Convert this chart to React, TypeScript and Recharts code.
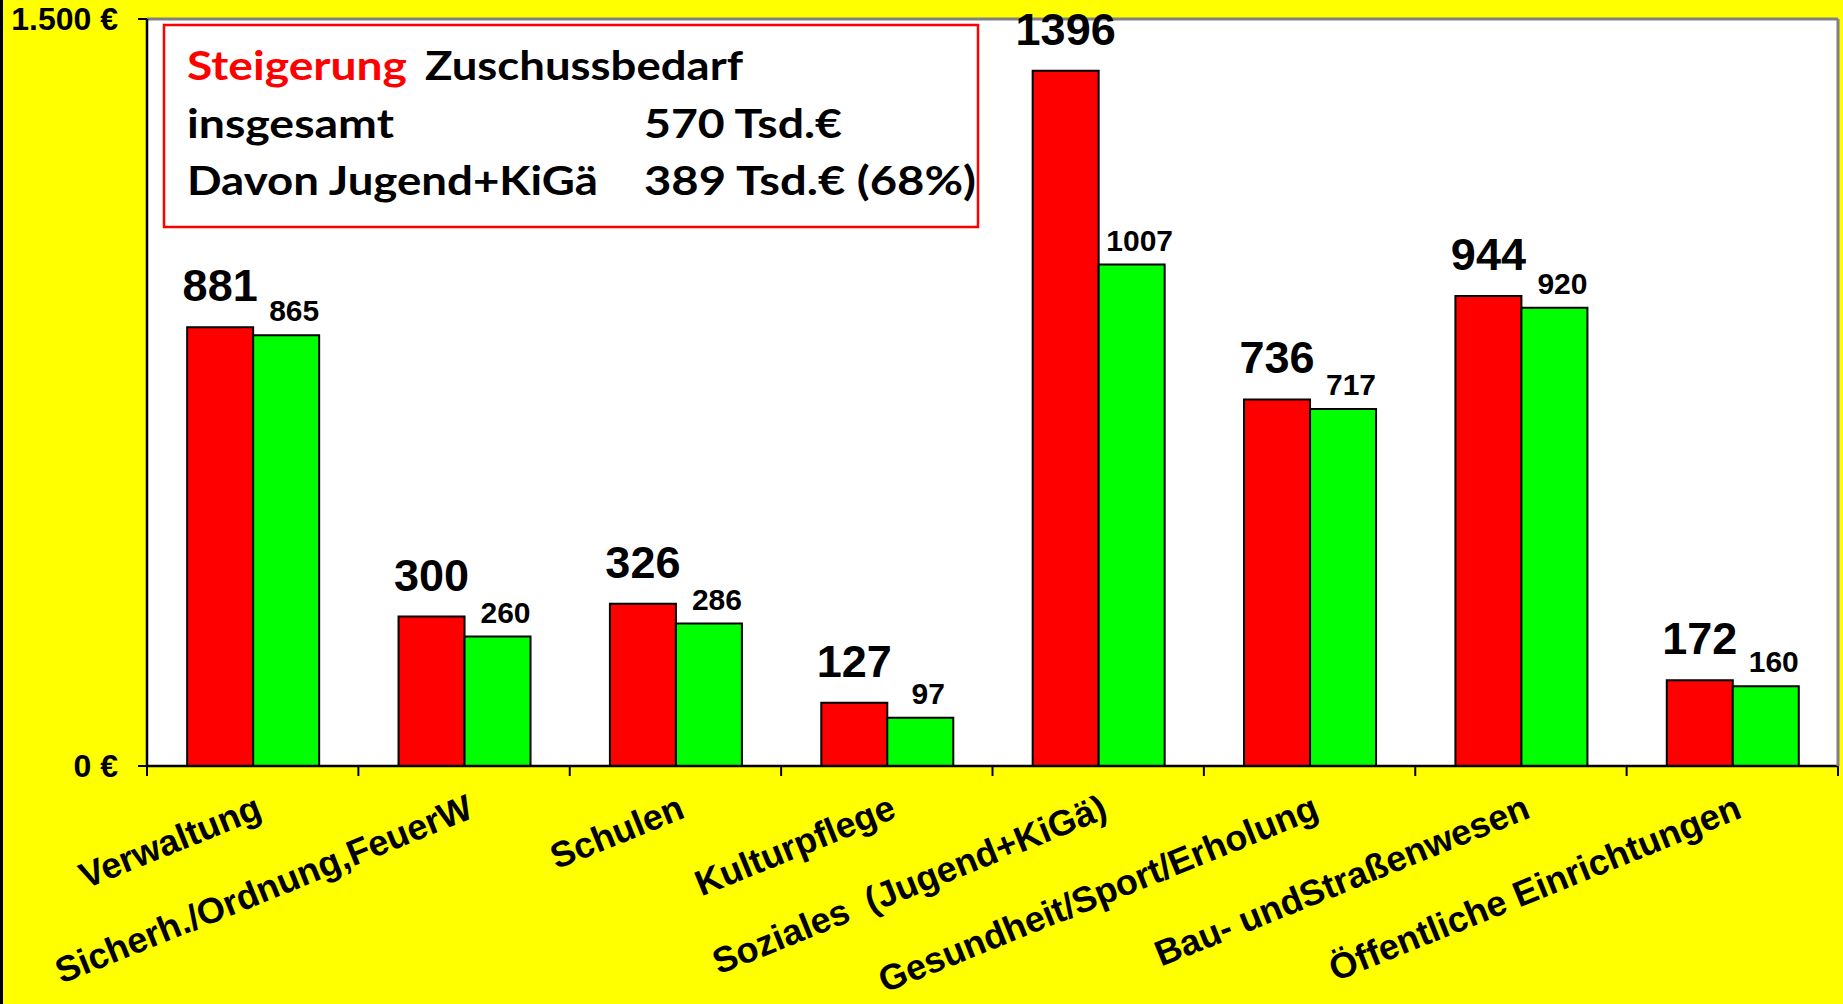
import React from "react";
import {
  Bar,
  BarChart,
  CartesianGrid,
  LabelList,
  ReferenceLine,
  XAxis,
  YAxis,
} from "recharts";

const categories = [
  "Verwaltung",
  "Sicherh./Ordnung,FeuerW",
  "Schulen",
  "Kulturpflege",
  "Soziales\u00a0\u00a0(Jugend+KiGä)",
  "Gesundheit/Sport/Erholung",
  "Bau- undStraßenwesen",
  "Öffentliche Einrichtungen",
];
const neuWerte = [881, 300, 326, 127, 1396, 736, 944, 172];
const altWerte = [865, 260, 286, 97, 1007, 717, 920, 160];
const yTicks = [0, 1500];

const noteLines = [
  { parts: [{ text: "Steigerung", red: true }, { text: "Zuschussbedarf" }] },
  { parts: [{ text: "insgesamt" }, { text: "570 Tsd.€" }] },
  { parts: [{ text: "Davon Jugend+KiGä" }, { text: "389 Tsd.€ (68%)" }] },
];

const data = categories.map((name, i) => ({
  name,
  neu: neuWerte[i],
  alt: altWerte[i],
}));

const W = 1843;
const H = 1004;
const PLOT_LEFT = 147;
const PLOT_RIGHT = 1838;
const BAND = (PLOT_RIGHT - PLOT_LEFT) / categories.length;
const FONT = '"Liberation Sans", Arial, sans-serif';

const euro = (v: number) =>
  String(v).replace(/\B(?=(\d{3})+(?!\d))/g, ".") + " €";

function CategoryTick(props: any) {
  const { x, y, payload } = props;
  const i = categories.indexOf(payload.value);
  const left = x - BAND / 2;
  return (
    <g>
      <line x1={left} y1={y} x2={left} y2={y + 10} stroke="#000" strokeWidth={2} />
      {i === categories.length - 1 && (
        <line
          x1={x + BAND / 2}
          y1={y}
          x2={x + BAND / 2}
          y2={y + 10}
          stroke="#000"
          strokeWidth={2}
        />
      )}
      <text
        transform={`translate(${x + 11},${y + 51}) rotate(-22)`}
        textAnchor="end"
        fontSize={36}
        fontWeight="bold"
        fontFamily={FONT}
        fill="#000"
      >
        {payload.value}
      </text>
    </g>
  );
}

function NeuLabel(props: any) {
  const x = Number(props.x);
  const y = Number(props.y);
  const w = Number(props.width);
  return (
    <text
      x={x + w / 2}
      y={y - 26}
      textAnchor="middle"
      fontSize={45}
      fontWeight="bold"
      fontFamily={FONT}
      fill="#000"
    >
      {props.value}
    </text>
  );
}

function AltLabel(props: any) {
  const x = Number(props.x);
  const y = Number(props.y);
  const w = Number(props.width);
  return (
    <text
      x={x + w / 2 + 8}
      y={y - 14}
      textAnchor="middle"
      fontSize={30}
      fontWeight="bold"
      fontFamily={FONT}
      fill="#000"
    >
      {props.value}
    </text>
  );
}

// Textfeld oben links im Diagramm
function NoteBox() {
  const colX = [187, 644];
  const widths = [
    [220, 318],
    [207, 198],
    [411, 332],
  ];
  const baselines = [80, 138, 195];
  return (
    <svg
      width={W}
      height={H}
      style={{ position: "absolute", left: 0, top: 0, pointerEvents: "none" }}
    >
      <rect x={164} y={25} width={814} height={202} fill="#fff" stroke="#ff0000" strokeWidth={2.5} />
      {noteLines.map((line, li) =>
        line.parts.map((p: any, pi) => (
          <text
            key={`${li}-${pi}`}
            x={li === 0 && pi === 1 ? 425 : colX[pi]}
            y={baselines[li]}
            fontSize={40}
            fontWeight="bold"
            fontFamily="Lato, 'Open Sans', sans-serif"
            fill={p.red ? "#ff0000" : "#000"}
            textLength={widths[li][pi]}
            lengthAdjust="spacingAndGlyphs"
          >
            {p.text}
          </text>
        ))
      )}
    </svg>
  );
}

export default function App() {
  return (
    <div
      style={{
        position: "absolute",
        left: 0,
        top: 0,
        width: W,
        height: H,
        background: "#ffff00",
      }}
    >
      <BarChart
        width={W}
        height={H}
        data={data}
        margin={{ top: 19, right: 2, left: 0, bottom: 0 }}
        barCategoryGap="19%"
        barGap={0}
      >
        <CartesianGrid horizontal={false} vertical={false} fill="#fff" />
        <XAxis
          dataKey="name"
          interval={0}
          height={238}
          tickLine={false}
          tickSize={0}
          tickMargin={0}
          axisLine={{ stroke: "#000", strokeWidth: 2.5 }}
          tick={<CategoryTick />}
        />
        <YAxis
          width={147}
          domain={[0, 1500]}
          ticks={yTicks}
          tickFormatter={euro}
          tickSize={9}
          tickMargin={20}
          axisLine={{ stroke: "#000", strokeWidth: 2.5 }}
          tickLine={{ stroke: "#000", strokeWidth: 2 }}
          tick={{ fill: "#000", fontSize: 32, fontWeight: "bold", fontFamily: FONT }}
        />
        <YAxis
          yAxisId="r"
          orientation="right"
          width={3}
          domain={[0, 1500]}
          tick={false}
          tickLine={false}
          axisLine={{ stroke: "#808080", strokeWidth: 3 }}
        />
        <ReferenceLine y={1500} stroke="#808080" strokeWidth={3} />
        <Bar dataKey="neu" fill="#ff0000" stroke="#000" strokeWidth={2} isAnimationActive={false}>
          <LabelList dataKey="neu" content={<NeuLabel />} />
        </Bar>
        <Bar dataKey="alt" fill="#00ff00" stroke="#000" strokeWidth={2} isAnimationActive={false}>
          <LabelList dataKey="alt" content={<AltLabel />} />
        </Bar>
      </BarChart>
      <div
        style={{
          position: "absolute",
          left: 0,
          top: 0,
          width: 3,
          height: H,
          background: "#000",
        }}
      />
      <NoteBox />
    </div>
  );
}
